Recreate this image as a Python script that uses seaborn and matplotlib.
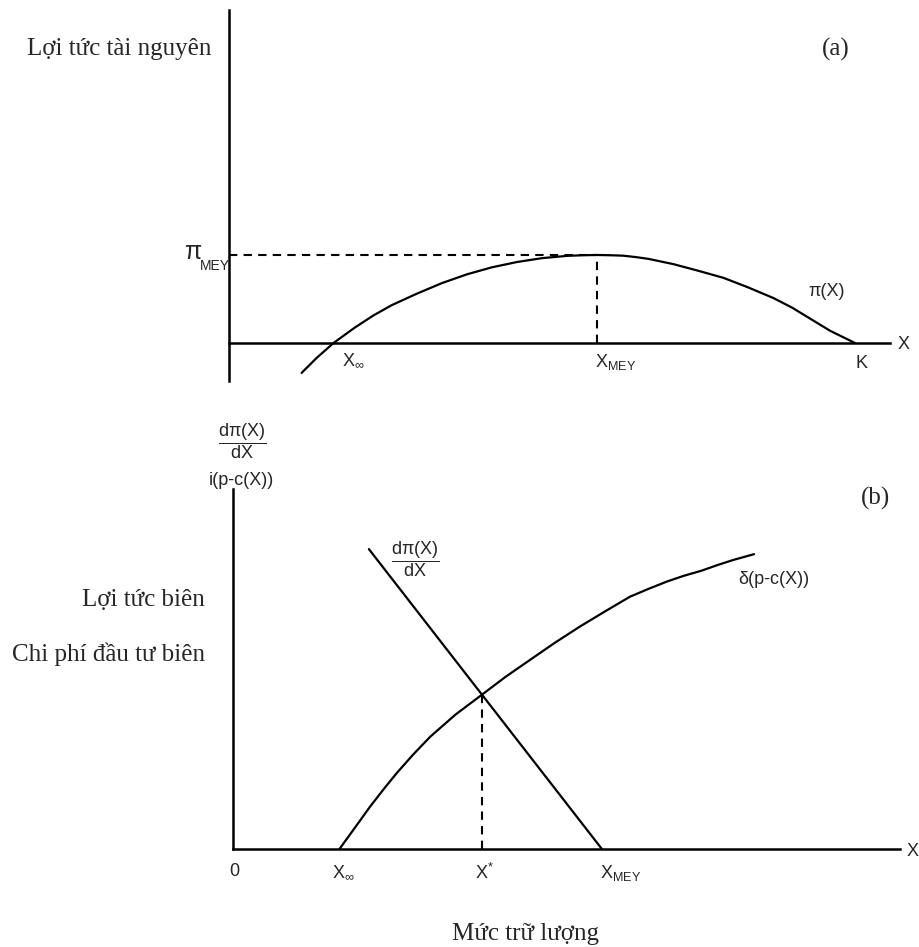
import matplotlib
matplotlib.use("Agg")
import matplotlib.pyplot as plt
import pandas as pd
import seaborn as sns

# ---------------- Panel (a): resource rent pi(X) versus stock level ----------------
profit_stock = [11.6, 14.0, 16.7, 20.0, 23.0, 26.0, 30.0, 34.0, 38.0, 42.0, 46.0, 50.0,
                54.0, 56.5, 58.8, 61.0, 63.0, 65.0, 67.0, 71.0, 75.0, 79.0, 83.0, 87.0,
                90.0, 93.0, 96.0, 100.0]
profit_value = [-17.0, -8.5, 0.0, 8.5, 15.5, 21.5, 28.0, 34.0, 39.0, 43.0, 46.0, 48.2,
                49.5, 49.85, 50.0, 49.85, 49.6, 48.8, 47.8, 44.8, 41.0, 37.0, 31.5, 25.5,
                20.0, 13.5, 7.0, 0.0]
x_open_access_a = 16.7
x_mey_a = 58.8
pi_mey = 50.0
k_capacity = 100.0

# ---------------- Panel (b): marginal rent and marginal investment cost ----------------
mr_stock = [21.7, 58.9]
mr_value = [83.3, 0.0]
mc_stock = [17.0, 19.5, 21.9, 24.0, 26.1, 28.8, 31.5, 35.5, 39.7, 43.5, 47.4, 51.4,
            55.4, 59.4, 63.4, 66.4, 69.3, 72.0, 74.8, 77.4, 79.9, 83.2]
mc_value = [0.0, 6.0, 11.8, 16.5, 21.0, 26.3, 31.2, 37.3, 42.8, 47.8, 52.5, 57.3,
            61.8, 66.0, 70.1, 72.3, 74.3, 75.9, 77.3, 78.9, 80.3, 81.9]
x_open_access_b = 17.0
x_star = 39.7
y_star = 42.9
x_mey_b = 58.9

sns.set_theme(style="white")
plt.rcParams["font.family"] = ["Liberation Sans", "DejaVu Sans"]
plt.rcParams["mathtext.fontset"] = "custom"
plt.rcParams["mathtext.rm"] = "Liberation Sans"
plt.rcParams["mathtext.it"] = "Liberation Sans:italic"
plt.rcParams["mathtext.bf"] = "Liberation Sans:bold"

SERIF = ["Liberation Serif", "DejaVu Serif"]
SANS_SIZE = 13
SERIF_SIZE = 18
AXIS_LW = 1.8
CURVE_LW = 1.6
DASH_LW = 1.5
DASH = (0, (4, 3))

W, H = 919, 947
fig = plt.figure(figsize=(W / 100, H / 100), dpi=100)
fig.patch.set_facecolor("white")

ax_a = fig.add_axes([229 / W, 1 - 381 / H, (890 - 229) / W, (381 - 10) / H])
ax_b = fig.add_axes([233 / W, 1 - 849 / H, (900 - 233) / W, (849 - 489) / H])


def style_axes(ax, xlim, ylim, bottom_at_zero):
    ax.set_xlim(*xlim)
    ax.set_ylim(*ylim)
    ax.set_facecolor("none")
    for side in ("top", "right"):
        ax.spines[side].set_visible(False)
    for side in ("left", "bottom"):
        ax.spines[side].set_color("black")
        ax.spines[side].set_linewidth(AXIS_LW)
    if bottom_at_zero:
        ax.spines["bottom"].set_position(("data", 0))
    ax.set_xticks([])
    ax.set_yticks([])
    ax.set_xlabel("")
    ax.set_ylabel("")
    ax.grid(False)


# ---- panel (a) ----
profit_df = pd.DataFrame({"stock": profit_stock, "rent": profit_value})
sns.lineplot(data=profit_df, x="stock", y="rent", ax=ax_a, color="black",
             lw=CURVE_LW, sort=False, estimator=None)
ax_a.plot([0, x_mey_a], [pi_mey, pi_mey], color="black", lw=DASH_LW, linestyle=DASH)
ax_a.plot([x_mey_a, x_mey_a], [0, pi_mey], color="black", lw=DASH_LW, linestyle=DASH)
style_axes(ax_a, (0, 105.6), (-21.6, 189.2), bottom_at_zero=True)

ax_a.text(x_open_access_a + 1.3, -5.1, r"$\mathrm{X}_{\infty}$", fontsize=SANS_SIZE,
          ha="left", va="top")
ax_a.text(x_mey_a - 0.3, -5.1, r"$\mathrm{X}_{\mathrm{MEY}}$", fontsize=SANS_SIZE,
          ha="left", va="top")
ax_a.text(k_capacity + 1.1, -6.8, "K", fontsize=SANS_SIZE, ha="center", va="top")
ax_a.text(107.8, -0.6, "X", fontsize=SANS_SIZE, ha="center", va="center", clip_on=False)
ax_a.text(95.4, 29.5, "π(X)", fontsize=SANS_SIZE, ha="center", va="center")
ax_a.text(97.0, 166.5, "(a)", fontsize=SERIF_SIZE, family=SERIF, ha="center", va="center")
# pi_MEY marker on the vertical axis: large pi with a lowered subscript
ax_a.text(-4.5, 47.5, "π", fontsize=SANS_SIZE + 5, ha="right", va="baseline",
          clip_on=False)
ax_a.text(-4.6, 41.5, "MEY", fontsize=SANS_SIZE - 3, ha="left", va="baseline",
          clip_on=False)

# ---- panel (b) ----
mr_df = pd.DataFrame({"stock": mr_stock, "value": mr_value})
mc_df = pd.DataFrame({"stock": mc_stock, "value": mc_value})
sns.lineplot(data=mr_df, x="stock", y="value", ax=ax_b, color="black",
             lw=CURVE_LW, sort=False, estimator=None)
sns.lineplot(data=mc_df, x="stock", y="value", ax=ax_b, color="black",
             lw=CURVE_LW, sort=False, estimator=None)
ax_b.plot([x_star, x_star], [0, y_star], color="black", lw=DASH_LW, linestyle=DASH)
style_axes(ax_b, (0, 106.5), (0, 100), bottom_at_zero=False)

ax_b.text(0.16, -3.9, "0", fontsize=SANS_SIZE, ha="center", va="top", clip_on=False)
ax_b.text(x_open_access_b - 1.2, -3.9, r"$\mathrm{X}_{\infty}$", fontsize=SANS_SIZE,
          ha="left", va="top", clip_on=False)
ax_b.text(x_star - 1.0, -3.9, r"$\mathrm{X}^{*}$", fontsize=SANS_SIZE,
          ha="left", va="top", clip_on=False)
ax_b.text(x_mey_b - 0.3, -3.9, r"$\mathrm{X}_{\mathrm{MEY}}$", fontsize=SANS_SIZE,
          ha="left", va="top", clip_on=False)
ax_b.text(108.5, -0.6, "X", fontsize=SANS_SIZE, ha="center", va="center", clip_on=False)
ax_b.text(102.6, 97.5, "(b)", fontsize=SERIF_SIZE, family=SERIF, ha="center",
          va="center", clip_on=False)
ax_b.text(86.4, 75.0, "δ(p-c(X))", fontsize=SANS_SIZE, ha="center", va="center")
ax_b.text(29.1, 80.6, r"$\dfrac{\mathrm{d\pi(X)}}{\mathrm{dX}}$", fontsize=SANS_SIZE,
          ha="center", va="center")
ax_b.text(1.4, 113.3, r"$\dfrac{\mathrm{d\pi(X)}}{\mathrm{dX}}$", fontsize=SANS_SIZE,
          ha="center", va="center", clip_on=False)
ax_b.text(1.4, 102.5, "i(p-c(X))", fontsize=SANS_SIZE, ha="center", va="center",
          clip_on=False)

# ---- serif captions around the panels ----
fig.text(27 / W, 1 - 55 / H, "Lợi tức tài nguyên", fontsize=SERIF_SIZE, family=SERIF,
         ha="left", va="baseline")
fig.text(205 / W, 1 - 606 / H, "Lợi tức biên", fontsize=SERIF_SIZE, family=SERIF,
         ha="right", va="baseline")
fig.text(205 / W, 1 - 661 / H, "Chi phí đầu tư biên", fontsize=SERIF_SIZE, family=SERIF,
         ha="right", va="baseline")
fig.text(526 / W, 1 - 940 / H, "Mức trữ lượng", fontsize=SERIF_SIZE, family=SERIF,
         ha="center", va="baseline")

fig.savefig("out.png", dpi=100, facecolor="white")
